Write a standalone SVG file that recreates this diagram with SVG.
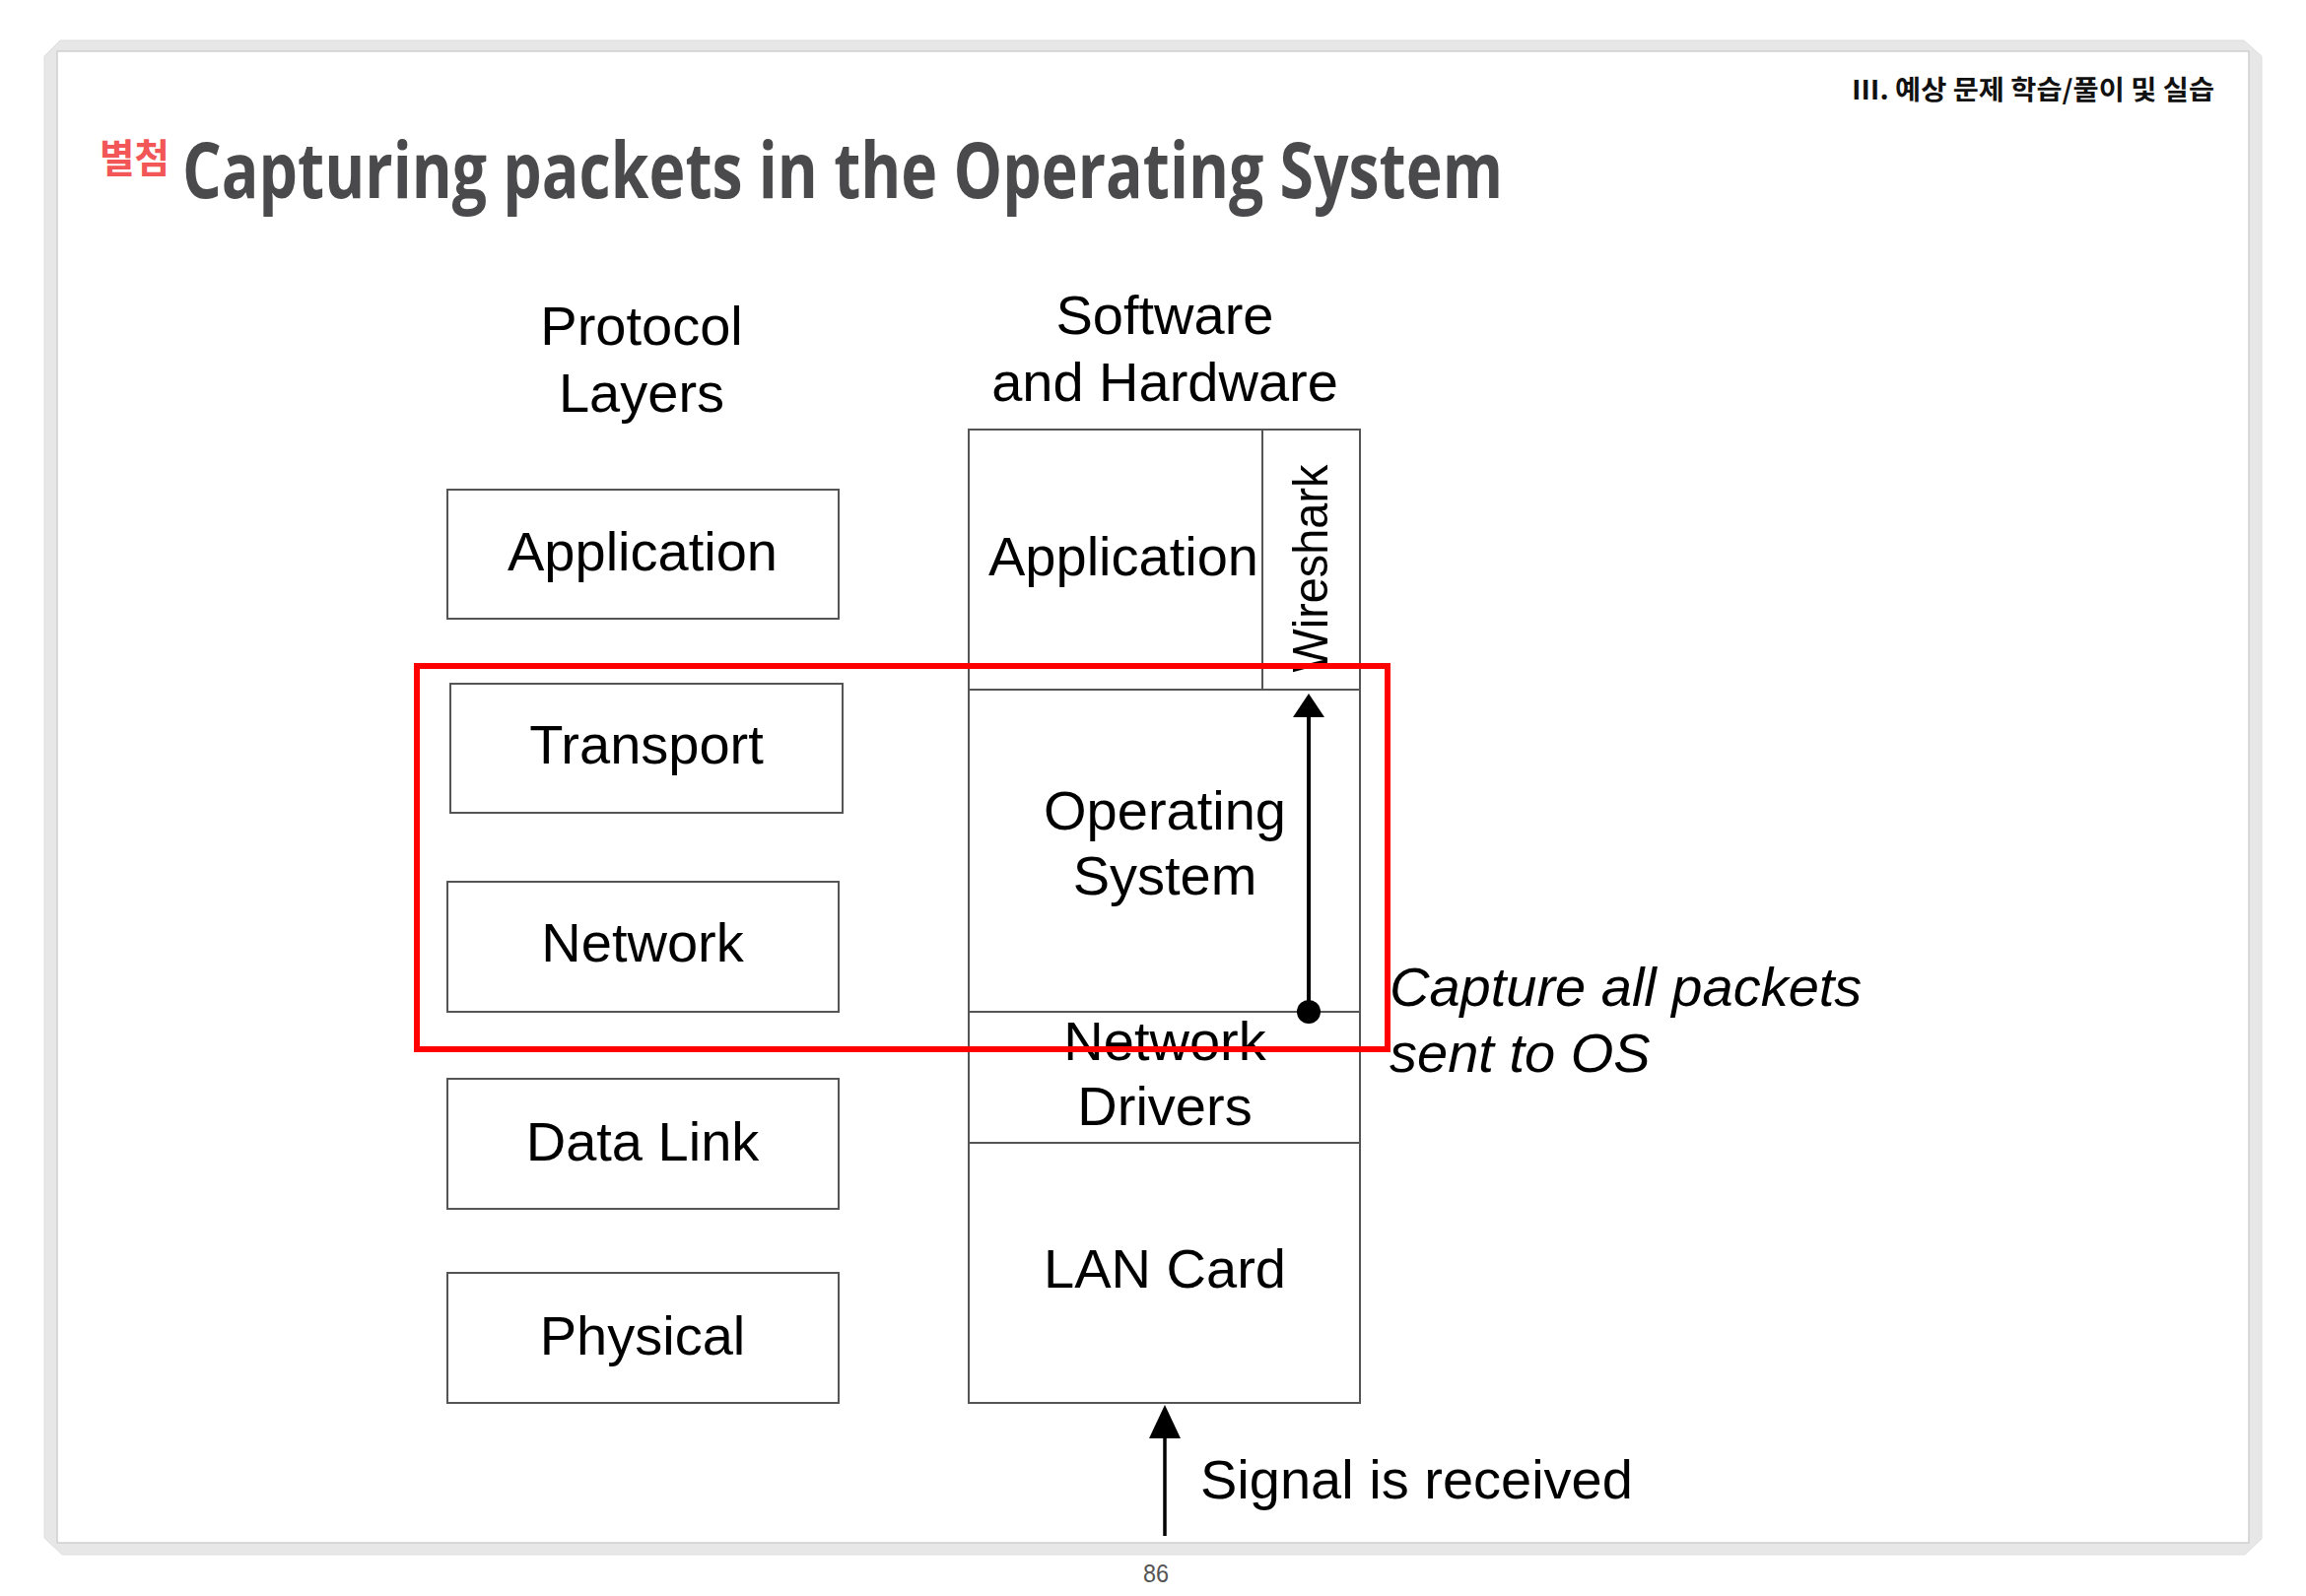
<svg xmlns="http://www.w3.org/2000/svg" width="2340" height="1620" viewBox="0 0 2340 1620">
<style>
.box{fill:#fff;stroke:#555;stroke-width:2}
.ln{stroke:#555;stroke-width:2;fill:none}
.t{font-family:"Liberation Sans",Arial,sans-serif;font-size:56px;fill:#000;text-anchor:middle}
.ti{font-family:"Liberation Sans",Arial,sans-serif;font-size:56px;fill:#000;font-style:italic}
.ar{stroke:#000;fill:none}
</style>
<defs>
<marker id="ah" markerUnits="userSpaceOnUse" markerWidth="24" markerHeight="32" refX="4" refY="16" orient="auto">
<path d="M0,0 L24,16 L0,32 z" fill="#000"/>
</marker>
<marker id="ah2" markerUnits="userSpaceOnUse" markerWidth="34" markerHeight="32" refX="4" refY="16" orient="auto">
<path d="M0,0 L34,16 L0,32 z" fill="#000"/>
</marker>
</defs>
<rect width="2340" height="1620" fill="#fff"/>
<g id="frame">
<polygon points="61,41 2277,41 2295,57 2295,1562 2278,1578 63,1578 45,1561 45,57" fill="#e7e7e7" stroke="#dedede" stroke-width="1"/>
<rect x="58" y="52" width="2224" height="1514" fill="#fff" stroke="#cfcfcf" stroke-width="1.5"/>
</g>
<g id="header">
<text x="1879" y="101" textLength="368" lengthAdjust="spacingAndGlyphs" font-family="'Noto Sans CJK KR','Noto Sans',sans-serif" font-weight="700" font-size="27" fill="#111">Ⅲ. 예상 문제 학습/풀이 및 실습</text>
<text x="101" y="175" textLength="71" lengthAdjust="spacingAndGlyphs" font-family="'Noto Sans CJK KR',sans-serif" font-weight="700" font-size="40" fill="#f25656">별첨</text>
<text x="185" y="201" textLength="1340" lengthAdjust="spacingAndGlyphs" font-family="'Open Sans','Noto Sans',sans-serif" font-weight="700" font-size="78" fill="#4a4a4c">Capturing packets in the Operating System</text>
</g>
<g id="col-headers">
<text class="t" x="651" y="350">Protocol</text>
<text class="t" x="651" y="418">Layers</text>
<text class="t" x="1182" y="339">Software</text>
<text class="t" x="1182" y="407">and Hardware</text>
</g>
<g id="layer-application"><rect class="box" x="454" y="497" width="397" height="131"/><text class="t" x="652" y="579">Application</text></g>
<g id="layer-transport"><rect class="box" x="457" y="694" width="398" height="131"/><text class="t" x="656" y="775">Transport</text></g>
<g id="layer-network"><rect class="box" x="454" y="895" width="397" height="132"/><text class="t" x="652" y="976">Network</text></g>
<g id="layer-datalink"><rect class="box" x="454" y="1095" width="397" height="132"/><text class="t" x="652" y="1178">Data Link</text></g>
<g id="layer-physical"><rect class="box" x="454" y="1292" width="397" height="132"/><text class="t" x="652" y="1375">Physical</text></g>
<g id="sw-stack">
<rect class="box" x="983" y="436" width="397" height="988"/>
</g>
<g id="sw-application"><line class="ln" x1="983" y1="700" x2="1380" y2="700"/><text class="t" x="1140" y="584">Application</text></g>
<g id="sw-wireshark"><line class="ln" x1="1281" y1="436" x2="1281" y2="700"/><text class="t" transform="translate(1347,577) rotate(-90)" textLength="211" lengthAdjust="spacingAndGlyphs" style="font-size:50px">Wireshark</text></g>
<g id="sw-os"><text class="t" x="1182" y="842">Operating</text><text class="t" x="1182" y="908">System</text></g>
<g id="sw-drivers"><line class="ln" x1="983" y1="1027" x2="1380" y2="1027"/><text class="t" x="1182" y="1076">Network</text><text class="t" x="1182" y="1142">Drivers</text></g>
<g id="sw-lancard"><line class="ln" x1="983" y1="1160" x2="1380" y2="1160"/><text class="t" x="1182" y="1307">LAN Card</text></g>
<g id="connectors">
<line class="ar" x1="1328" y1="1027" x2="1328" y2="724" stroke-width="4" marker-end="url(#ah)"/>
<circle cx="1328" cy="1027" r="12" fill="#000"/>
<line class="ar" x1="1182" y1="1559" x2="1182" y2="1456" stroke-width="3.5" marker-end="url(#ah2)"/>
</g>
<g id="capture-region">
<rect x="423" y="676" width="985" height="389" fill="none" stroke="#f00" stroke-width="6"/>
</g>
<g id="labels">
<text class="ti" x="1410" y="1021">Capture all packets</text>
<text class="ti" x="1410" y="1088">sent to OS</text>
<text class="t" x="1218" y="1521" style="text-anchor:start">Signal is received</text>
</g>
<g id="page-number">
<text x="1173" y="1606" text-anchor="middle" font-family="'Liberation Sans',sans-serif" font-size="26" fill="#555" textLength="26" lengthAdjust="spacingAndGlyphs">86</text>
</g>
</svg>
